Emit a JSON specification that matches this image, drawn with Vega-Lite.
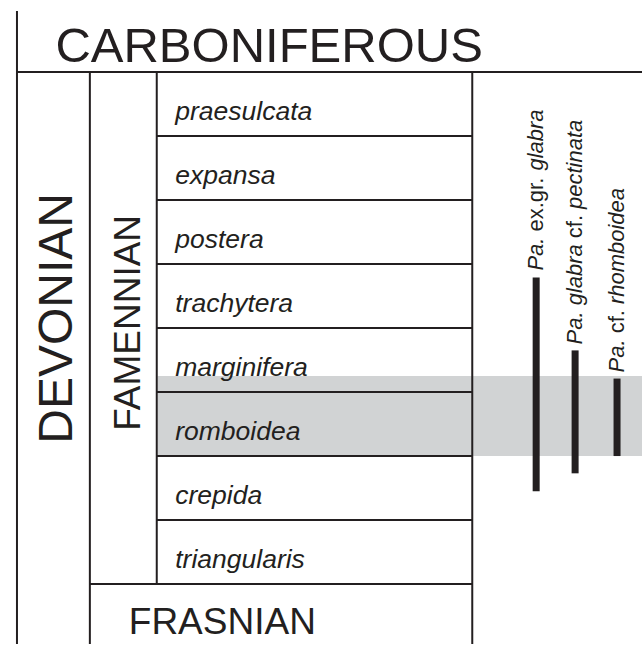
{
  "$schema": "https://vega.github.io/schema/vega-lite/v6.json",
  "width": 643,
  "height": 645,
  "autosize": {"type": "fit", "contains": "padding"},
  "padding": 0,
  "background": "white",
  "config": {"view": {"stroke": null}, "text": {"font": "Liberation Sans", "color": "#231f20"}, "rule": {"color": "#231f20", "strokeWidth": 2}},
  "datasets": {
    "zones": [
      {"zone": "triangularis", "base": 0, "top": 1},
      {"zone": "crepida", "base": 1, "top": 2},
      {"zone": "romboidea", "base": 2, "top": 3},
      {"zone": "marginifera", "base": 3, "top": 4},
      {"zone": "trachytera", "base": 4, "top": 5},
      {"zone": "postera", "base": 5, "top": 6},
      {"zone": "expansa", "base": 6, "top": 7},
      {"zone": "praesulcata", "base": 7, "top": 8}
    ],
    "ranges": [
      {"taxon": "Pa. ex.gr. glabra", "column": 537, "first": 1.45, "last": 4.79},
      {"taxon": "Pa. glabra cf. pectinata", "column": 576, "first": 1.73, "last": 3.65},
      {"taxon": "Pa. cf. rhomboidea", "column": 618, "first": 2.0, "last": 3.21}
    ],
    "names": [
      {"taxon": "Pa. ex.gr. glabra", "column": 537, "part": "Pa.", "kind": "name", "start": 4.897},
      {"taxon": "Pa. ex.gr. glabra", "column": 537, "part": "ex.gr.", "kind": "qualifier", "start": 5.507},
      {"taxon": "Pa. ex.gr. glabra", "column": 537, "part": "glabra", "kind": "name", "start": 6.459},
      {"taxon": "Pa. glabra cf. pectinata", "column": 576, "part": "Pa. glabra", "kind": "name", "start": 3.743},
      {"taxon": "Pa. glabra cf. pectinata", "column": 576, "part": "cf.", "kind": "qualifier", "start": 5.402},
      {"taxon": "Pa. glabra cf. pectinata", "column": 576, "part": "pectinata", "kind": "name", "start": 5.859},
      {"taxon": "Pa. cf. rhomboidea", "column": 618, "part": "Pa.", "kind": "name", "start": 3.306},
      {"taxon": "Pa. cf. rhomboidea", "column": 618, "part": "cf.", "kind": "qualifier", "start": 3.916},
      {"taxon": "Pa. cf. rhomboidea", "column": 618, "part": "rhomboidea", "kind": "name", "start": 4.373}
    ],
    "interval": [{"from": 2, "to": 3.25}],
    "one": [{}]
  },
  "layer": [
    {
      "data": {"name": "interval"},
      "mark": {"type": "rect", "color": "#d1d3d4"},
      "encoding": {
        "x": {"datum": 158, "type": "quantitative", "scale": {"domain": [0, 643], "nice": false, "zero": false}, "axis": null},
        "x2": {"datum": 643},
        "y": {"field": "from", "type": "quantitative", "scale": {"domain": [-0.9357, 9.1228], "nice": false, "zero": false}, "axis": null},
        "y2": {"field": "to"}
      }
    },
    {
      "data": {"name": "zones"},
      "transform": [{"filter": "datum.base > 0"}],
      "mark": {"type": "rule"},
      "encoding": {
        "x": {"datum": 157, "type": "quantitative", "scale": {"domain": [0, 643], "nice": false, "zero": false}, "axis": null},
        "x2": {"datum": 473},
        "y": {"field": "base", "type": "quantitative", "scale": {"domain": [-0.9357, 9.1228], "nice": false, "zero": false}, "axis": null}
      }
    },
    {
      "data": {"name": "one"},
      "mark": {"type": "rule"},
      "encoding": {
        "x": {"datum": 17, "type": "quantitative", "scale": {"domain": [0, 643], "nice": false, "zero": false}, "axis": null},
        "x2": {"datum": 643},
        "y": {"datum": 8, "type": "quantitative", "scale": {"domain": [-0.9357, 9.1228], "nice": false, "zero": false}, "axis": null}
      }
    },
    {
      "data": {"name": "one"},
      "mark": {"type": "rule"},
      "encoding": {
        "x": {"datum": 90, "type": "quantitative", "scale": {"domain": [0, 643], "nice": false, "zero": false}, "axis": null},
        "x2": {"datum": 473},
        "y": {"datum": 0, "type": "quantitative", "scale": {"domain": [-0.9357, 9.1228], "nice": false, "zero": false}, "axis": null}
      }
    },
    {
      "data": {"name": "one"},
      "mark": {"type": "rule"},
      "encoding": {
        "x": {"datum": 17, "type": "quantitative", "scale": {"domain": [0, 643], "nice": false, "zero": false}, "axis": null},
        "y": {"datum": 8.95, "type": "quantitative", "scale": {"domain": [-0.9357, 9.1228], "nice": false, "zero": false}, "axis": null},
        "y2": {"datum": -0.9357}
      }
    },
    {
      "data": {"name": "one"},
      "mark": {"type": "rule"},
      "encoding": {
        "x": {"datum": 90, "type": "quantitative", "scale": {"domain": [0, 643], "nice": false, "zero": false}, "axis": null},
        "y": {"datum": 8, "type": "quantitative", "scale": {"domain": [-0.9357, 9.1228], "nice": false, "zero": false}, "axis": null},
        "y2": {"datum": -0.9357}
      }
    },
    {
      "data": {"name": "one"},
      "mark": {"type": "rule"},
      "encoding": {
        "x": {"datum": 157, "type": "quantitative", "scale": {"domain": [0, 643], "nice": false, "zero": false}, "axis": null},
        "y": {"datum": 8, "type": "quantitative", "scale": {"domain": [-0.9357, 9.1228], "nice": false, "zero": false}, "axis": null},
        "y2": {"datum": 0}
      }
    },
    {
      "data": {"name": "one"},
      "mark": {"type": "rule"},
      "encoding": {
        "x": {"datum": 473, "type": "quantitative", "scale": {"domain": [0, 643], "nice": false, "zero": false}, "axis": null},
        "y": {"datum": 8, "type": "quantitative", "scale": {"domain": [-0.9357, 9.1228], "nice": false, "zero": false}, "axis": null},
        "y2": {"datum": -0.9357}
      }
    },
    {
      "data": {"name": "zones"},
      "mark": {"type": "text", "fontSize": 26.5, "fontStyle": "italic", "align": "left", "baseline": "alphabetic", "dy": -16},
      "encoding": {
        "x": {"datum": 175.5, "type": "quantitative", "scale": {"domain": [0, 643], "nice": false, "zero": false}, "axis": null},
        "y": {"field": "base", "type": "quantitative", "scale": {"domain": [-0.9357, 9.1228], "nice": false, "zero": false}, "axis": null},
        "text": {"field": "zone"}
      }
    },
    {
      "data": {"values": [{"unit": "CARBONIFEROUS"}]},
      "mark": {"type": "text", "fontSize": 49, "align": "left", "baseline": "alphabetic", "dy": 22},
      "encoding": {
        "x": {"datum": 55.5, "type": "quantitative", "scale": {"domain": [0, 643], "nice": false, "zero": false}, "axis": null},
        "y": {"datum": 8.5, "type": "quantitative", "scale": {"domain": [-0.9357, 9.1228], "nice": false, "zero": false}, "axis": null},
        "text": {"field": "unit"}
      }
    },
    {
      "data": {"values": [{"unit": "FRASNIAN"}]},
      "mark": {"type": "text", "fontSize": 37, "align": "left", "baseline": "alphabetic", "dy": 18},
      "encoding": {
        "x": {"datum": 129, "type": "quantitative", "scale": {"domain": [0, 643], "nice": false, "zero": false}, "axis": null},
        "y": {"datum": -0.5, "type": "quantitative", "scale": {"domain": [-0.9357, 9.1228], "nice": false, "zero": false}, "axis": null},
        "text": {"field": "unit"}
      }
    },
    {
      "data": {"values": [{"unit": "DEVONIAN"}]},
      "mark": {"type": "text", "fontSize": 48, "align": "center", "baseline": "alphabetic", "angle": 270},
      "encoding": {
        "x": {"datum": 72, "type": "quantitative", "scale": {"domain": [0, 643], "nice": false, "zero": false}, "axis": null},
        "y": {"datum": 4.15, "type": "quantitative", "scale": {"domain": [-0.9357, 9.1228], "nice": false, "zero": false}, "axis": null},
        "text": {"field": "unit"}
      }
    },
    {
      "data": {"values": [{"unit": "FAMENNIAN"}]},
      "mark": {"type": "text", "fontSize": 37, "align": "center", "baseline": "alphabetic", "angle": 270},
      "encoding": {
        "x": {"datum": 140, "type": "quantitative", "scale": {"domain": [0, 643], "nice": false, "zero": false}, "axis": null},
        "y": {"datum": 4.08, "type": "quantitative", "scale": {"domain": [-0.9357, 9.1228], "nice": false, "zero": false}, "axis": null},
        "text": {"field": "unit"}
      }
    },
    {
      "data": {"name": "ranges"},
      "mark": {"type": "rule", "strokeWidth": 7, "strokeCap": "butt"},
      "encoding": {
        "x": {"field": "column", "type": "quantitative", "scale": {"domain": [0, 643], "nice": false, "zero": false}, "axis": null},
        "y": {"field": "first", "type": "quantitative", "scale": {"domain": [-0.9357, 9.1228], "nice": false, "zero": false}, "axis": null},
        "y2": {"field": "last"}
      }
    },
    {
      "data": {"name": "names"},
      "transform": [{"filter": "datum.kind === 'name'"}],
      "mark": {"type": "text", "fontSize": 22, "fontStyle": "italic", "align": "left", "baseline": "alphabetic", "angle": 270, "dy": 7},
      "encoding": {
        "x": {"field": "column", "type": "quantitative", "scale": {"domain": [0, 643], "nice": false, "zero": false}, "axis": null},
        "y": {"field": "start", "type": "quantitative", "scale": {"domain": [-0.9357, 9.1228], "nice": false, "zero": false}, "axis": null},
        "text": {"field": "part"}
      }
    },
    {
      "data": {"name": "names"},
      "transform": [{"filter": "datum.kind === 'qualifier'"}],
      "mark": {"type": "text", "fontSize": 22, "align": "left", "baseline": "alphabetic", "angle": 270, "dy": 7},
      "encoding": {
        "x": {"field": "column", "type": "quantitative", "scale": {"domain": [0, 643], "nice": false, "zero": false}, "axis": null},
        "y": {"field": "start", "type": "quantitative", "scale": {"domain": [-0.9357, 9.1228], "nice": false, "zero": false}, "axis": null},
        "text": {"field": "part"}
      }
    }
  ]
}
